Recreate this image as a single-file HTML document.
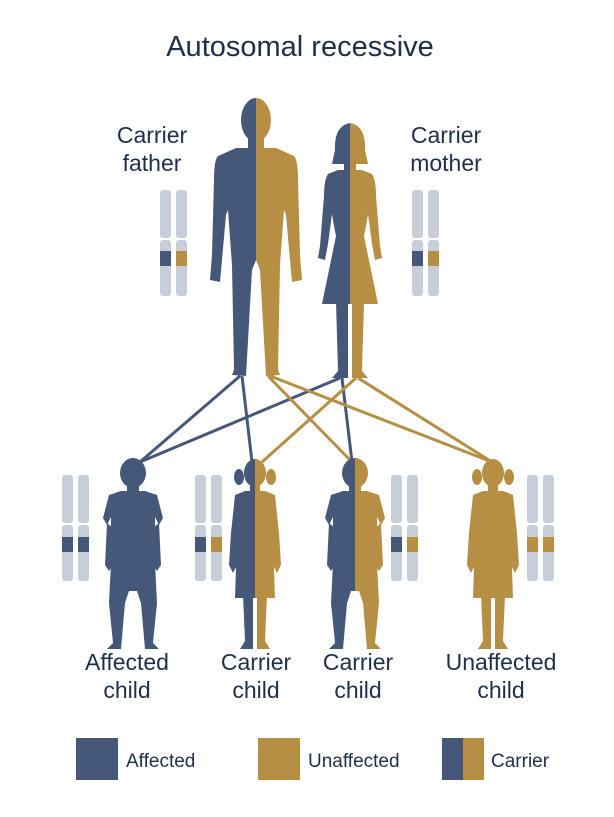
<!DOCTYPE html>
<html><head><style>
html,body{margin:0;padding:0;background:#fff}
svg{display:block}
text{font-family:"Liberation Sans",sans-serif;fill:#1f2e4b}
</style></head><body>
<svg width="614" height="817" viewBox="0 0 614 817" xmlns="http://www.w3.org/2000/svg">
<defs>
<g id="man">
<ellipse cx="0" cy="0" rx="15" ry="22"/>
<rect x="-8" y="15" width="16" height="16"/>
<path d="M-20,28 L-38,36 Q-42,40 -42,60 L-44,135 L-46,160 L-36,162 L-34,140 L-30,95 L-28,90 L-24,145 L-22,250 L-24,255 L-10,256 L-4,150 L0,140 L4,150 L10,256 L24,255 L22,250 L24,145 L28,90 L30,95 L34,140 L36,162 L46,160 L44,135 L42,60 Q42,40 38,36 L20,28 Z"/>
</g>
<g id="woman">
<path d="M-15,4 Q-16,-20 0,-23 Q16,-20 15,4 L18,18 L-18,18 Z"/>
<rect x="-6" y="10" width="12" height="18"/>
<path d="M-12,24 L-22,28 Q-26,34 -26,50 L-30,100 L-32,112 L-25,114 L-22,98 L-18,68 L-16,80 L-14,90 L-28,158 L28,158 L14,90 L16,80 L18,68 L22,98 L25,114 L32,112 L30,100 L26,50 Q26,34 22,28 L12,24 Z"/>
<path d="M-14,156 L-12,225 L-18,232 L-2,232 L-2,156 Z M14,156 L12,225 L18,232 L2,232 L2,156 Z"/>
</g>
<g id="boy">
<ellipse cx="0" cy="0" rx="13" ry="15"/>
<rect x="-6" y="10" width="12" height="12"/>
<path d="M-12,18 L-24,22 L-30,45 L-26,52 L-22,44 L-22,90 L-24,130 L-20,170 L-26,176 L-12,176 L-8,130 L-4,118 L0,118 L4,118 L8,130 L12,176 L26,176 L20,170 L24,130 L22,90 L22,44 L26,52 L30,45 L24,22 L12,18 Z"/>
<path d="M-26,50 L-28,92 L-24,98 L-20,92 L-20,55 Z M26,50 L28,92 L24,98 L20,92 L20,55 Z"/>
</g>
<g id="girl">
<ellipse cx="0" cy="0" rx="11" ry="14"/>
<ellipse cx="-16" cy="4" rx="5" ry="8"/>
<ellipse cx="16" cy="4" rx="5" ry="8"/>
<rect x="-5" y="10" width="10" height="12"/>
<path d="M-10,18 L-20,22 L-24,60 L-26,92 L-22,100 L-18,92 L-18,65 L-20,125 L20,125 L18,65 L18,92 L22,100 L26,92 L24,60 L20,22 L10,18 Z"/>
<path d="M-12,122 L-10,168 L-15,176 L-2,176 L-2,122 Z M12,122 L10,168 L15,176 L2,176 L2,122 Z"/>
</g>
<g id="chrom">
<rect x="0" y="0" width="11" height="48" rx="3"/>
<rect x="0" y="50" width="11" height="56" rx="3"/>
</g>
<clipPath id="cl"><rect x="-100" y="-100" width="100" height="500"/></clipPath>
<clipPath id="cr"><rect x="0" y="-100" width="100" height="500"/></clipPath>
</defs>

<text x="300" y="56" font-size="29" text-anchor="middle">Autosomal recessive</text>
<text x="152" y="143" font-size="23" text-anchor="middle">Carrier</text>
<text x="152" y="171" font-size="23" text-anchor="middle">father</text>
<text x="446" y="143" font-size="23" text-anchor="middle">Carrier</text>
<text x="446" y="171" font-size="23" text-anchor="middle">mother</text>

<!-- lines -->
<g stroke-width="3" fill="none">
<line x1="240" y1="376" x2="140" y2="462" stroke="#46587a"/>
<line x1="242" y1="376" x2="252" y2="462" stroke="#46587a"/>
<line x1="340" y1="378" x2="140" y2="462" stroke="#46587a"/>
<line x1="342" y1="378" x2="352" y2="462" stroke="#46587a"/>
<line x1="268" y1="376" x2="352" y2="462" stroke="#b68f44"/>
<line x1="270" y1="376" x2="492" y2="462" stroke="#b68f44"/>
<line x1="356" y1="378" x2="262" y2="462" stroke="#b68f44"/>
<line x1="358" y1="378" x2="492" y2="462" stroke="#b68f44"/>
</g>

<!-- parents -->
<g transform="translate(256,120)">
<use href="#man" fill="#46587a" clip-path="url(#cl)"/>
<use href="#man" fill="#b68f44" clip-path="url(#cr)"/>
</g>
<g transform="translate(350,146)">
<use href="#woman" fill="#46587a" clip-path="url(#cl)"/>
<use href="#woman" fill="#b68f44" clip-path="url(#cr)"/>
</g>

<!-- children -->
<g transform="translate(133,473)"><use href="#boy" fill="#46587a"/></g>
<g transform="translate(255,473)">
<use href="#girl" fill="#46587a" clip-path="url(#cl)"/>
<use href="#girl" fill="#b68f44" clip-path="url(#cr)"/>
</g>
<g transform="translate(355,473)">
<use href="#boy" fill="#46587a" clip-path="url(#cl)"/>
<use href="#boy" fill="#b68f44" clip-path="url(#cr)"/>
</g>
<g transform="translate(493,473)"><use href="#girl" fill="#b68f44"/></g>

<!-- chromosomes -->
<g fill="#c8ced8">
<use href="#chrom" x="160" y="190"/><use href="#chrom" x="176" y="190"/>
<use href="#chrom" x="412" y="190"/><use href="#chrom" x="428" y="190"/>
<use href="#chrom" x="62" y="475"/><use href="#chrom" x="78" y="475"/>
<use href="#chrom" x="195" y="475"/><use href="#chrom" x="211" y="475"/>
<use href="#chrom" x="391" y="475"/><use href="#chrom" x="407" y="475"/>
<use href="#chrom" x="527" y="475"/><use href="#chrom" x="543" y="475"/>
</g>
<rect x="160" y="251" width="11" height="15" fill="#46587a"/>
<rect x="176" y="251" width="11" height="15" fill="#b68f44"/>
<rect x="412" y="251" width="11" height="15" fill="#46587a"/>
<rect x="428" y="251" width="11" height="15" fill="#b68f44"/>
<rect x="62" y="537" width="11" height="15" fill="#46587a"/>
<rect x="78" y="537" width="11" height="15" fill="#46587a"/>
<rect x="195" y="537" width="11" height="15" fill="#46587a"/>
<rect x="211" y="537" width="11" height="15" fill="#b68f44"/>
<rect x="391" y="537" width="11" height="15" fill="#46587a"/>
<rect x="407" y="537" width="11" height="15" fill="#b68f44"/>
<rect x="527" y="537" width="11" height="15" fill="#b68f44"/>
<rect x="543" y="537" width="11" height="15" fill="#b68f44"/>

<!-- labels -->
<g font-size="23" text-anchor="middle">
<text x="127" y="670">Affected</text><text x="127" y="698">child</text>
<text x="256" y="670">Carrier</text><text x="256" y="698">child</text>
<text x="358" y="670">Carrier</text><text x="358" y="698">child</text>
<text x="501" y="670">Unaffected</text><text x="501" y="698">child</text>
</g>

<!-- legend -->
<rect x="76" y="738" width="42" height="42" fill="#46587a"/>
<text x="126" y="767" font-size="19">Affected</text>
<rect x="258" y="738" width="42" height="42" fill="#b68f44"/>
<text x="308" y="767" font-size="19">Unaffected</text>
<rect x="442" y="738" width="21" height="42" fill="#46587a"/>
<rect x="463" y="738" width="21" height="42" fill="#b68f44"/>
<text x="491" y="767" font-size="19">Carrier</text>
</svg>
</body></html>
